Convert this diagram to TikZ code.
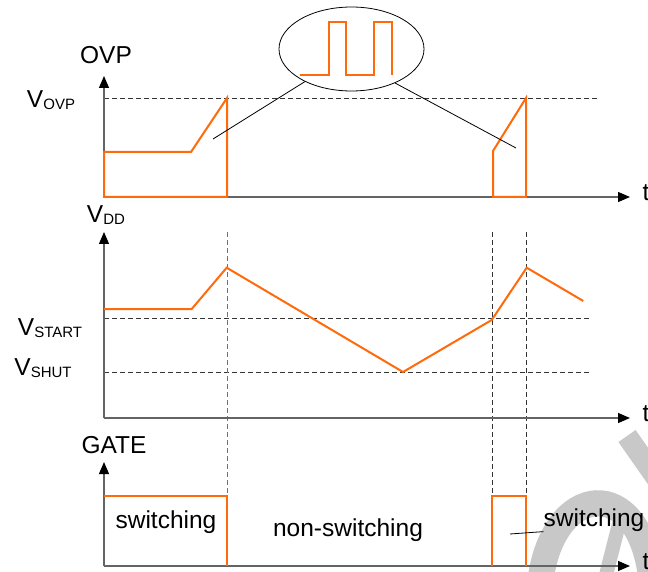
\documentclass[tikz,border=0pt]{standalone}
\usepackage{fontspec}
\setmainfont{Liberation Sans}
\usetikzlibrary{arrows.meta,shapes.geometric}
\definecolor{wave}{RGB}{255,106,10}
\definecolor{axisgray}{RGB}{100,100,100}
\definecolor{wm}{RGB}{200,200,200}
\newcommand{\lbl}[2]{#1{\fontsize{15}{15}\selectfont\raisebox{-2pt}{#2}}}
\begin{document}
\begin{tikzpicture}[x=1pt,y=-1pt,
  axis/.style={draw=axisgray,line width=1.2pt},
  axarrow/.style={axis,-{Triangle[length=12pt,width=10pt,fill=black,color=black]}},
  wavepath/.style={draw=wave,line width=2pt,line join=miter},
  refline/.style={draw=black!80,line width=0.9pt,dash pattern=on 5pt off 3pt},
  grayref/.style={draw=black!55,line width=1pt,dash pattern=on 5pt off 3pt},
  leader/.style={draw=black,line width=0.8pt},
  txt/.style={font=\fontsize{24.5}{28}\selectfont,inner sep=0pt}]
\useasboundingbox (0,0) rectangle (648,572);
\fill[white] (0,0) rectangle (648,572);
% watermark
\draw[wm,line width=21pt] (627,436) -- (662,486);
\draw[wm,line width=26pt] (540,585) .. controls (550,482) and (642,470) .. (652,585);
\draw[wm,line width=14pt] (620,520) -- (606,575);

% ---------- top panel ----------
\draw[refline] (104,98) -- (598,98);
\draw[axarrow] (104,197) -- (104,76);
\draw[axarrow] (104,197) -- (630,197);
\node[txt] (ovp) at (106,55) {OVP};
\node[txt] (vovp) at (51,100) {\lbl{V}{OVP}};
\node[txt] (t1) at (646,193) {t};
\draw[wavepath] (104,197) -- (104,152) -- (191,152) -- (227,98) -- (227,197) -- cycle;
\draw[wavepath] (493,197) -- (493,151) -- (526,98) -- (526,197) -- cycle;
% zoom ellipse
\node[draw=black,line width=0.8pt,ellipse,minimum width=145pt,minimum height=84pt,inner sep=0pt] (zoomell) at (351.5,49) {};
\draw[draw=wave,line width=2pt] (300,75) -- (328.7,75) -- (328.7,21.7) -- (346.3,21.7) -- (346.3,75) -- (374.3,75) -- (374.3,21.7) -- (392.3,21.7) -- (392.3,75);
\coordinate (pA) at (213,139);
\coordinate (pB) at (516,148);
\draw[leader] (zoomell.-145) -- (pA);
\draw[leader] (zoomell.-38) -- (pB);

% ---------- middle panel ----------
\draw[refline] (104,318) -- (590,318);
\draw[refline] (104,372) -- (590,372);
\draw[grayref] (227,232) -- (227,495);
\draw[refline] (492,232) -- (492,495);
\draw[refline] (526,232) -- (526,495);
\draw[axarrow] (104,418) -- (104,232);
\draw[axarrow] (104,418) -- (630,418);
\node[txt] (vdd) at (106,215) {\lbl{V}{DD}};
\node[txt] (vstart) at (50,328) {\lbl{V}{START}};
\node[txt] (vshut) at (43,368) {\lbl{V}{SHUT}};
\node[txt] (t2) at (646,414) {t};
\draw[wavepath] (104,309) -- (191.7,309) -- (226.7,267.7) -- (403,372) -- (491.7,320) -- (526.7,267.7) -- (583.3,301);

% ---------- bottom panel ----------
\draw[axarrow] (104,566) -- (104,462);
\draw[axarrow] (104,566) -- (630,566);
\node[txt] (gate) at (114,445) {GATE};
\node[txt] (t3) at (646,562) {t};
\draw[wavepath] (104,496) -- (227,496) -- (227,566);
\draw[wavepath] (491.5,566) -- (491.5,496) -- (526.3,496) -- (526.3,566);
\node[txt] (sw1) at (166,522) {switching};
\node[txt] (nsw) at (348,530) {non-switching};
\node[txt] (sw2) at (594,520) {switching};
\coordinate (pC) at (510,534);
\draw[leader] (pC) -- (sw2.south west);
\end{tikzpicture}
\end{document}
